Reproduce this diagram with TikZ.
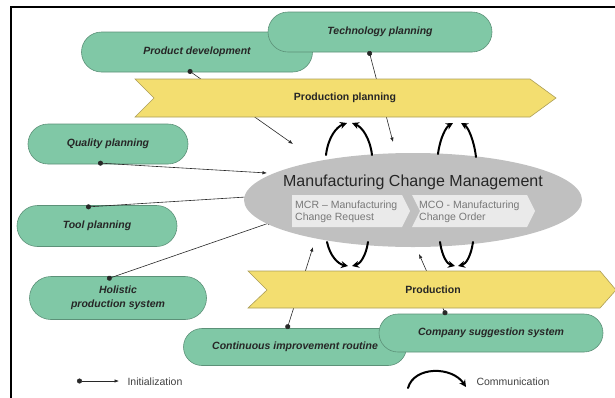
\documentclass[tikz,border=0pt]{standalone}
\usepackage{fontspec}
\setmainfont{Liberation Sans}
\usetikzlibrary{shapes.misc,shapes.geometric,arrows.meta}
\definecolor{mint}{RGB}{128,200,166}
\definecolor{mintline}{RGB}{92,145,120}
\definecolor{sand}{RGB}{243,222,112}
\definecolor{sandline}{RGB}{172,158,88}
\definecolor{mcmgray}{RGB}{192,192,192}
\definecolor{stepgray}{RGB}{234,234,234}
\definecolor{steptext}{RGB}{120,120,120}
\definecolor{inkline}{RGB}{40,40,40}
\begin{document}
\begin{tikzpicture}[x=1pt,y=-1pt,
  area/.style={rounded rectangle, draw=mintline, fill=mint, line width=0.6pt,
    inner sep=0pt, align=center, text=black!85,
    font=\fontsize{10.5}{14}\selectfont\bfseries\itshape},
  phase/.style={draw=sandline, fill=sand, line width=0.6pt},
  phasetext/.style={font=\fontsize{10.5}{12}\selectfont\bfseries, text=black!85},
  stepbox/.style={fill=stepgray},
  steplabel/.style={anchor=west, align=left, text=steptext,
    font=\fontsize{10.5}{11.5}\selectfont, inner sep=0pt},
  init/.style={draw=inkline, line width=0.6pt,
    arrows={Circle[length=5pt]-Latex[length=4.5pt,width=3.5pt]}},
  comm/.style={line width=2pt, line cap=round,
    arrows={-Stealth[length=7pt,width=7pt]}},
  legendtext/.style={anchor=west, font=\fontsize{10.5}{12}\selectfont, text=black!75}
]
\useasboundingbox (0,0) rectangle (615,397);
\clip (0,0) rectangle (615,397);

% frame
\draw[line width=2pt] (11,398) -- (11,7) -- (616,7);

% planning and improvement areas
\node[area, minimum width=231, minimum height=40] (pd) at (197,52) {Product development};
\node[area, minimum width=224, minimum height=40] (tp) at (380,32) {Technology planning};
\node[area, minimum width=160, minimum height=40] (qp) at (108,144) {Quality planning};
\node[area, minimum width=160, minimum height=41] (tl) at (97,226) {Tool planning};
\node[area, minimum width=177, minimum height=43] (hp) at (118,298) {Holistic\\production system};
\node[area, minimum width=223, minimum height=37] (ci) at (295,347) {Continuous improvement routine};
\node[area, minimum width=224, minimum height=38] (cs) at (491,333) {Company suggestion system};

% initialization links
\coordinate (pd-out) at (188,70);  \coordinate (pd-in) at (293,144);
\coordinate (tp-out) at (369,51);  \coordinate (tp-in) at (393,142);
\coordinate (qp-out) at (98,163);  \coordinate (qp-in) at (267,173);
\coordinate (tl-out) at (86,207);  \coordinate (tl-in) at (262,196);
\coordinate (hp-out) at (107,279); \coordinate (hp-in) at (272,222);
\coordinate (ci-out) at (287,329); \coordinate (ci-in) at (313,247);
\coordinate (cs-out) at (446,315); \coordinate (cs-in) at (419,254);
\draw[init] (pd-out) -- (pd-in);
\draw[init] (tp-out) -- (tp-in);
\draw[init] (qp-out) -- (qp-in);
\draw[init] (tl-out) -- (tl-in);
\draw[init] (hp-out) -- (hp-in);
\draw[init] (ci-out) -- (ci-in);
\draw[init] (cs-out) -- (cs-in);

% process phases
\draw[phase] (135,79) -- (530,79) -- (556,98) -- (530,117) -- (135,117) -- (154,98) -- cycle;
\node[phasetext] (pplan) at (345,98) {Production planning};
\draw[phase] (248,271) -- (600,271) -- (616,290) -- (600,308) -- (248,308) -- (267,290) -- cycle;
\node[phasetext] (prod) at (433,290) {Production};

% manufacturing change management
\node[ellipse, fill=mcmgray, minimum width=338, minimum height=94, inner sep=0pt] (mcm) at (413,200) {};
\node[font=\fontsize{16}{18}\selectfont, text=black!85] (mcmtitle) at (413,182) {Manufacturing Change Management};
\fill[stepbox] (292,195) -- (402,195) -- (410,211) -- (402,227) -- (292,227) -- cycle;
\fill[stepbox] (412,195) -- (527,195) -- (535,211) -- (527,227) -- (412,227) -- (420,211) -- cycle;
\node[steplabel] (mcr) at (295,212) {MCR -- Manufacturing\\Change Request};
\node[steplabel] (mco) at (419,212) {MCO - Manufacturing\\Change Order};

% communication arrows
\coordinate (ua1) at (326,155); \coordinate (ub1) at (347,123);
\coordinate (ua2) at (372,155); \coordinate (ub2) at (352,123);
\coordinate (ua3) at (438,154); \coordinate (ub3) at (453,123);
\coordinate (ua4) at (476,157); \coordinate (ub4) at (461,123);
\draw[comm] (ua1) .. controls (328,138) and (336,127) .. (ub1);
\draw[comm] (ua2) .. controls (370,138) and (362,127) .. (ub2);
\draw[comm] (ua3) .. controls (440,138) and (446,127) .. (ub3);
\draw[comm] (ua4) .. controls (474,140) and (468,127) .. (ub4);
\coordinate (la1) at (327,242); \coordinate (lb1) at (348,266);
\coordinate (la2) at (368,242); \coordinate (lb2) at (352,266);
\coordinate (la3) at (440,242); \coordinate (lb3) at (455,266);
\coordinate (la4) at (473,242); \coordinate (lb4) at (458,266);
\draw[comm] (la1) .. controls (330,256) and (338,264) .. (lb1);
\draw[comm] (la2) .. controls (366,256) and (360,264) .. (lb2);
\draw[comm] (la3) .. controls (442,256) and (447,264) .. (lb3);
\draw[comm] (la4) .. controls (471,256) and (466,264) .. (lb4);

% legend
\coordinate (leg-a) at (77,381); \coordinate (leg-b) at (119,381);
\draw[init] (leg-a) -- (leg-b);
\node[legendtext] (leg-init) at (124,382) {Initialization};
\coordinate (leg-c) at (408,388); \coordinate (leg-d) at (466,387);
\draw[comm] (leg-c) .. controls (414,366) and (452,366) .. (leg-d);
\node[legendtext] (leg-comm) at (473,382) {Communication};
\end{tikzpicture}
\end{document}
